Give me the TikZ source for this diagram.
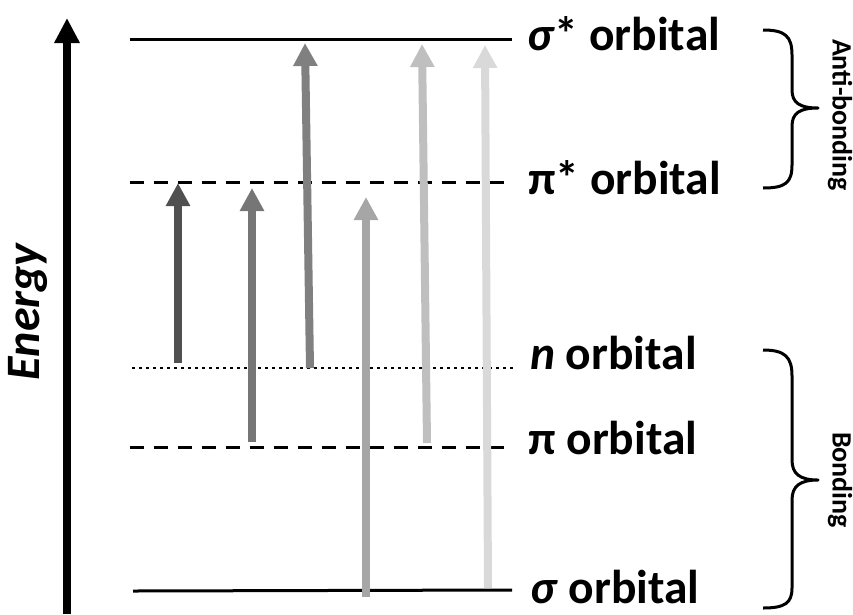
\documentclass[tikz,border=0pt]{standalone}
\usepackage{fontspec}
\setmainfont{Carlito}
\usetikzlibrary{arrows.meta}
\definecolor{aone}{HTML}{505050}
\definecolor{atwo}{HTML}{767676}
\definecolor{athree}{HTML}{808080}
\definecolor{afour}{HTML}{A6A6A6}
\definecolor{afive}{HTML}{BFBFBF}
\definecolor{asix}{HTML}{D9D9D9}
\tikzset{
  level/.style={line width=3pt},
  dashlevel/.style={line width=3pt, dash pattern=on 14pt off 10pt},
  dotlevel/.style={line width=2.6pt, dash pattern=on 2.6pt off 4.4pt},
  trans/.style={line width=8pt, -{Triangle[width=23pt,length=23pt]}},
  lbl/.style={anchor=base west, inner sep=0pt, font=\fontsize{47.5}{50}\selectfont\bfseries},
  side/.style={inner sep=0pt, rotate=-90, font=\fontsize{28}{30}\selectfont\bfseries},
  bracepath/.style={line width=3pt, line join=round}
}
\begin{document}
\begin{tikzpicture}[x=1pt,y=-1pt]
\useasboundingbox (0,0) rectangle (853,614);
% energy axis
\coordinate (ebot) at (67,614);
\coordinate (etop) at (67,18);
\draw[line width=8pt, -{Triangle[width=24pt,length=25pt]}] (ebot) -- (etop);
\node[inner sep=0pt, rotate=90, font=\fontsize{48}{50}\selectfont\bfseries\itshape] (energy) at (28,312) {Energy};
% levels
\coordinate (ss0) at (130,39);  \coordinate (ss1) at (512,39);
\coordinate (ps0) at (130,182); \coordinate (ps1) at (512,182);
\coordinate (n0) at (132,368);  \coordinate (n1) at (515,368);
\coordinate (p0) at (130,447);  \coordinate (p1) at (512,447);
\coordinate (s0) at (133,591);  \coordinate (s1) at (512,590);
\draw[level] (ss0) -- (ss1);
\draw[dashlevel] (ps0) -- (ps1);
\draw[dotlevel] (n0) -- (n1);
\draw[dashlevel] (p0) -- (p1);
\draw[level] (s0) -- (s1);
% labels
\node[lbl] (lss) at (527,50) {\textit{σ}* orbital};
\node[lbl] (lps) at (528,194) {π* orbital};
\node[lbl] (ln) at (530,369) {\textit{n} orbital};
\node[lbl] (lp) at (528,454) {π orbital};
\node[lbl] (ls) at (530,603) {\textit{σ} orbital};
% transitions
\coordinate (a1b) at (178,363); \coordinate (a1t) at (178,183);
\coordinate (a2b) at (252,442); \coordinate (a2t) at (252,188);
\coordinate (a3b) at (310,368); \coordinate (a3t) at (305,43);
\coordinate (a4b) at (366,597); \coordinate (a4t) at (366,197);
\coordinate (a5b) at (427,443); \coordinate (a5t) at (422,44);
\coordinate (a6b) at (488,588); \coordinate (a6t) at (485,45);
\draw[trans, draw=aone, fill=aone] (a1b) -- (a1t);
\draw[trans, draw=atwo, fill=atwo] (a2b) -- (a2t);
\draw[trans, draw=athree, fill=athree] (a3b) -- (a3t);
\draw[trans, draw=afour, fill=afour] (a4b) -- (a4t);
\draw[trans, draw=afive, fill=afive] (a5b) -- (a5t);
\draw[trans, draw=asix, fill=asix] (a6b) -- (a6t);
% braces
\draw[bracepath] (763,30) .. controls (785,30) and (792,36) .. (792,55) -- (792,90)
  .. controls (792,103) and (800,108) .. (818,108)
  .. controls (800,108) and (792,113) .. (792,126) -- (792,165)
  .. controls (792,183) and (785,188) .. (763,188);
\draw[bracepath] (763,350) .. controls (785,350) and (792,357) .. (792,376) -- (792,460)
  .. controls (792,474) and (800,480) .. (818,480)
  .. controls (800,480) and (792,486) .. (792,500) -- (792,588)
  .. controls (792,603) and (785,608) .. (763,608);
\node[side] (anti) at (840,115) {Anti-bonding};
\node[side] (bond) at (840,480) {Bonding};
\end{tikzpicture}
\end{document}
